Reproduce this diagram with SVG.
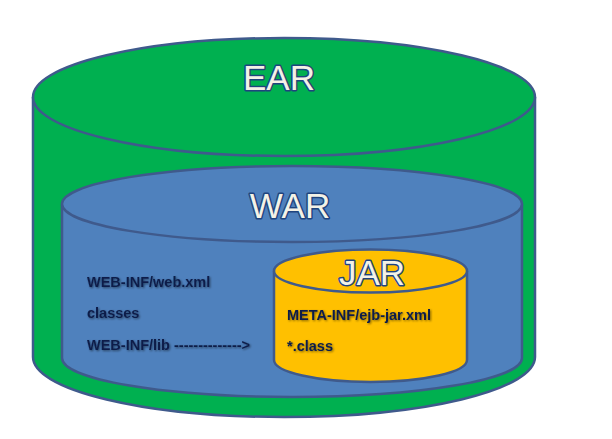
<svg xmlns="http://www.w3.org/2000/svg" width="612" height="439" viewBox="0 0 612 439">
<defs>
<style>
.edge{stroke:#3F5A8C;stroke-width:2.5}
.title{font-family:"Liberation Sans",Arial,sans-serif;font-size:35px;fill:#F4F2E6;stroke:#1F447E;stroke-width:3;stroke-linejoin:round;paint-order:stroke;text-anchor:middle}
.lbl{font-family:"Liberation Sans",Arial,sans-serif;font-size:14.5px;font-weight:bold;fill:#0E1F4A;filter:url(#sh)}
</style>
<filter id="sh" x="-10%" y="-30%" width="120%" height="160%">
<feGaussianBlur in="SourceAlpha" stdDeviation="0.8" result="b"/>
<feOffset dx="1" dy="1" result="o"/>
<feFlood flood-color="#000" flood-opacity="0.5"/>
<feComposite in2="o" operator="in" result="s"/>
<feMerge><feMergeNode in="s"/><feMergeNode in="SourceGraphic"/></feMerge>
</filter>
</defs>
<rect width="612" height="439" fill="#FFFFFF"/>
<g id="ear">
<path class="edge" fill="#00B050" d="M33,97 L33,357 A251,60 0 0 0 535,357 L535,97"/>
<ellipse class="edge" fill="#00B050" cx="284" cy="97" rx="251" ry="59"/>
<text class="title" x="279" y="90">EAR</text>
</g>
<g id="war">
<path class="edge" fill="#4F81BD" d="M62,204 L62,358 A230,39 0 0 0 522,358 L522,204"/>
<ellipse class="edge" fill="#4F81BD" cx="292" cy="204" rx="230" ry="38"/>
<text class="title" x="290" y="218">WAR</text>
<text class="lbl" x="87" y="287">WEB-INF/web.xml</text>
<text class="lbl" x="87" y="318">classes</text>
<text class="lbl" x="87" y="350">WEB-INF/lib --------------&gt;</text>
</g>
<g id="jar">
<path class="edge" fill="#FFC000" d="M274,271 L274,360 A96.5,22 0 0 0 467,360 L467,271"/>
<ellipse class="edge" fill="#FFC000" cx="370.5" cy="271" rx="96.5" ry="21.5"/>
<text class="title" x="372" y="285">JAR</text>
<text class="lbl" x="287" y="320">META-INF/ejb-jar.xml</text>
<text class="lbl" x="287" y="351">*.class</text>
</g>
<g id="connectors"/>
</svg>
